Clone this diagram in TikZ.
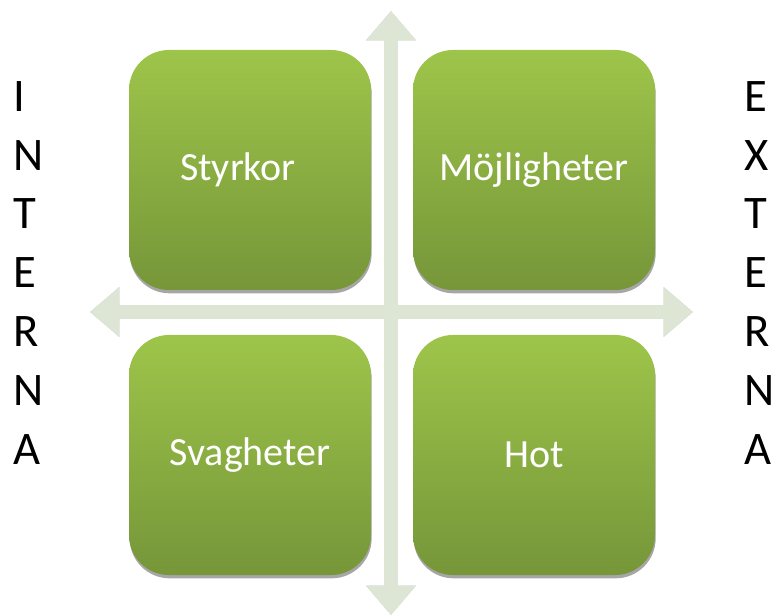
\documentclass[tikz,border=0pt]{standalone}
\usepackage{fontspec}
\setmainfont{Carlito}
\usetikzlibrary{arrows.meta,shadows}

\definecolor{quadTop}{RGB}{158,197,74}
\definecolor{quadBot}{RGB}{118,150,57}
\definecolor{axisFill}{RGB}{221,229,212}

\tikzset{
  quad/.style={rounded corners=30pt, minimum width=181.5pt, minimum height=180pt,
    top color=quadTop, bottom color=quadBot, text=white, inner sep=0pt,
    font=\fontsize{30}{36}\selectfont,
    drop shadow={shadow xshift=0.5pt, shadow yshift=-2.5pt, opacity=0.35, fill=black}},
  axis/.style={draw=axisFill, line width=10.5pt,
    {Triangle[width=36pt,length=22pt]}-{Triangle[width=36pt,length=22pt]}},
  axisshade/.style={axis, draw=black, opacity=0.22},
  sidetext/.style={anchor=north west, inner sep=0pt, align=left,
    font=\fontsize{35}{44.1}\selectfont}
}

\begin{document}
\begin{tikzpicture}[x=0.75pt,y=0.75pt,yscale=-1,xscale=1]
\useasboundingbox (0,0) rectangle (774,616);

% Axis ends
\coordinate (up) at (391,11);
\coordinate (down) at (391,615);
\coordinate (left) at (90,312);
\coordinate (right) at (693,312);

%Shadows of the axes
\begin{scope}[shift={(2.5,3)}]
\draw [axisshade] (up) -- (down);
\draw [axisshade] (left) -- (right);
\end{scope}
%Double Arrows
\draw [axis] (up) -- (down);
\draw [axis] (left) -- (right);

%Rounded Rects
\node [quad] (styrkor) at (250,170) {Styrkor\hspace*{18pt}};
\node [quad] (mojligheter) at (534,170) {Möjligheter};
\node [quad] (svagheter) at (250,455) {Svagheter};
\node [quad] (hot) at (534,455) {Hot};

% Text Node
\node [sidetext] (interna) at (13,81) {I\\N\\T\\E\\R\\N\\A};
% Text Node
\node [sidetext] (externa) at (744,81) {E\\X\\T\\E\\R\\N\\A};

\end{tikzpicture}
\end{document}
